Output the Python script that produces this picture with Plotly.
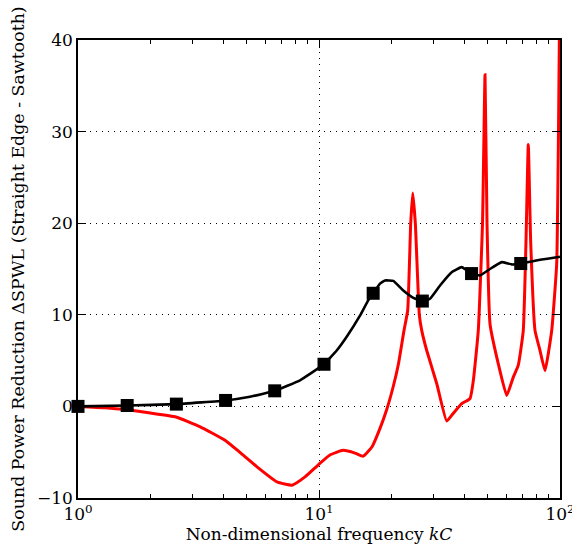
import plotly.graph_objects as go

# Red curve (sawtooth comparison)
red_x = [1.0, 1.30, 1.58, 2.0, 2.55, 3.20, 4.07, 4.79, 5.53, 6.70, 7.73, 8.75, 9.91,
         11.1, 12.58, 14.11, 15.23, 16.60, 17.91, 19.07, 20.34, 21.35, 22.53, 23.34,
         24.02, 24.49, 25.10, 26.08, 26.68, 27.99, 30.79, 33.88, 35.97, 39.09, 42.32,
         43.68, 45.81, 47.70, 48.85, 49.79, 51.23, 55.46, 60.09, 64.01, 67.14, 70.42,
         72.26, 73.87, 75.57, 78.75, 82.61, 86.65, 92.39, 96.90, 98.58, 100.0]
red_y = [0.0, -0.15, -0.35, -0.72, -1.15, -2.2, -3.7, -5.2, -6.6, -8.25, -8.6, -7.7, -6.4,
         -5.3, -4.8, -5.1, -5.45, -4.4, -2.4, -0.4, 2.2, 4.6, 8.3, 10.5,
         20.0, 23.3, 20.0, 10.0, 8.3, 6.1, 2.5, -1.6, -0.8, 0.3, 0.85,
         2.8, 8.3, 20.0, 36.2, 20.0, 9.0, 4.65, 1.2, 3.2, 4.5, 8.3,
         18.0, 28.6, 18.0, 8.3, 6.1, 3.9, 8.3, 15.6, 30.0, 48.0]

# Black curve (straight edge reference) line and square markers
black_x = [1.0, 1.6, 2.56, 4.1, 5.17, 6.55, 8.34, 10.49, 11.84, 13.03, 14.79, 16.02,
           16.78, 17.91, 18.79, 20.34, 22.38, 24.62, 26.84, 28.88, 31.78, 35.53, 39.09,
           42.95, 46.56, 51.22, 57.29, 63.04, 68.72, 82.6, 98.4, 100.0]
black_y = [0.0, 0.1, 0.25, 0.65, 1.05, 1.7, 2.85, 4.6, 6.1, 7.6, 9.9, 11.6,
           12.35, 13.4, 13.75, 13.7, 12.65, 11.85, 11.5, 11.75, 13.2, 14.65, 15.2,
           14.5, 14.3, 15.0, 15.75, 15.5, 15.6, 16.0, 16.3, 16.35]
marker_x = [1.0, 1.6, 2.56, 4.096, 6.55, 10.49, 16.78, 26.84, 42.95, 68.72]
marker_y = [0.0, 0.1, 0.25, 0.65, 1.7, 4.6, 12.35, 11.5, 14.5, 15.6]

x_tickvals = [1, 10, 100]
x_ticktext = ["10<sup>0</sup>", "10<sup>1</sup>", "10<sup>2</sup>"]
x_minorvals = [2, 3, 4, 5, 6, 7, 8, 9, 20, 30, 40, 50, 60, 70, 80, 90]
y_tickvals = [-10, 0, 10, 20, 30, 40]

FONT = "DejaVu Serif"

fig = go.Figure()
fig.add_trace(go.Scatter(x=red_x, y=red_y, mode="lines",
                         line=dict(color="#ff0000", width=3, shape="spline", smoothing=0.4),
                         showlegend=False))
fig.add_trace(go.Scatter(x=black_x, y=black_y, mode="lines",
                         line=dict(color="black", width=2.6, shape="spline", smoothing=0.3),
                         showlegend=False))
fig.add_trace(go.Scatter(x=marker_x, y=marker_y, mode="markers",
                         marker=dict(symbol="square", size=13, color="black"),
                         showlegend=False, cliponaxis=False))

fig.update_layout(
    width=572, height=551,
    margin=dict(l=78, r=12, t=40, b=53),
    paper_bgcolor="white", plot_bgcolor="white",
    font=dict(family=FONT, size=17, color="black"),
)
fig.update_xaxes(
    type="log", range=[0, 2], automargin=False, ticklabeloverflow="allow",
    tickvals=x_tickvals, ticktext=x_ticktext,
    ticks="inside", ticklen=8, tickwidth=1, tickcolor="black",
    minor=dict(tickvals=x_minorvals, ticks="inside", ticklen=4, tickcolor="black",
               showgrid=False),
    showline=True, linecolor="black", linewidth=1.5, mirror="ticks",
    showgrid=True, gridcolor="black", gridwidth=1, griddash="1px,5px",
    zeroline=False,
    title=dict(text="Non-dimensional frequency <i>kC</i>", font=dict(size=17), standoff=2),
    tickfont=dict(size=17),
)
fig.update_yaxes(
    range=[-10, 40], tickvals=y_tickvals, automargin=False, ticklabeloverflow="allow",
    ticks="inside", ticklen=8, tickwidth=1, tickcolor="black",
    showline=True, linecolor="black", linewidth=1.5, mirror="ticks",
    showgrid=True, gridcolor="black", gridwidth=1, griddash="1px,5px",
    zeroline=False,
    title=dict(text="Sound Power Reduction ΔSPWL (Straight Edge - Sawtooth)",
               font=dict(size=17.4), standoff=8),
    tickfont=dict(size=17),
)

fig.write_html("out.html", config={"displayModeBar": False},
               post_script="document.body.style.margin='0';document.body.style.overflow='hidden';")
